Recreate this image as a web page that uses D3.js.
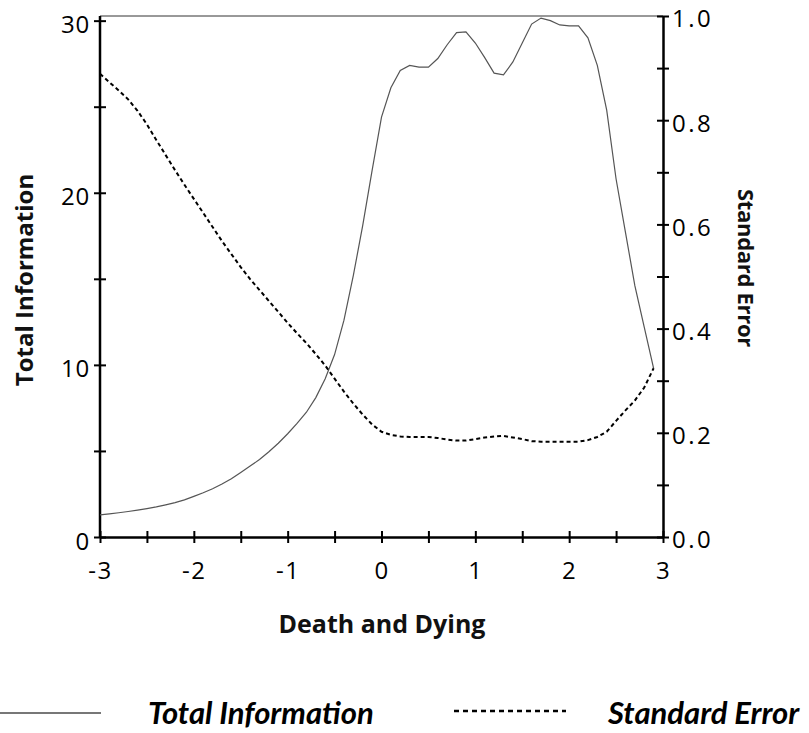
<!DOCTYPE html>
<html>
<head>
<meta charset="utf-8">
<script src="https://cdn.jsdelivr.net/npm/d3@7"></script>
<style>
  html, body { margin: 0; padding: 0; background: #fff; }
  svg { display: block; }
</style>
</head>
<body>
<svg id="chart" width="809" height="733"></svg>
<script>
// ---- data ----
const theta = [-3.0,-2.9,-2.8,-2.7,-2.6,-2.5,-2.4,-2.3,-2.2,-2.1,-2.0,-1.9,-1.8,-1.7,-1.6,-1.5,-1.4,-1.3,-1.2,-1.1,-1.0,-0.9,-0.8,-0.7,-0.6,-0.5,-0.4,-0.3,-0.2,-0.1,0.0,0.1,0.2,0.3,0.4,0.5,0.6,0.7,0.8,0.9,1.0,1.1,1.2,1.3,1.4,1.5,1.6,1.7,1.8,1.9,2.0,2.1,2.2,2.3,2.4,2.5,2.6,2.7,2.8,2.9];
const totalInformation = [1.28,1.34,1.41,1.48,1.56,1.65,1.75,1.87,2.00,2.16,2.36,2.57,2.80,3.08,3.38,3.75,4.12,4.50,4.95,5.45,6.00,6.60,7.25,8.10,9.20,10.6,12.6,15.2,18.1,21.3,24.4,26.1,27.1,27.4,27.3,27.3,27.8,28.6,29.3,29.35,28.7,27.85,26.95,26.85,27.6,28.7,29.8,30.15,30.0,29.75,29.7,29.7,29.0,27.4,24.8,20.8,17.7,14.6,12.2,9.8];
const standardError = [0.889,0.873,0.857,0.840,0.818,0.792,0.762,0.733,0.704,0.676,0.649,0.622,0.595,0.568,0.543,0.518,0.495,0.474,0.453,0.432,0.411,0.391,0.372,0.351,0.329,0.304,0.279,0.256,0.235,0.216,0.202,0.196,0.193,0.192,0.192,0.192,0.190,0.187,0.185,0.185,0.188,0.191,0.193,0.194,0.191,0.188,0.184,0.183,0.183,0.183,0.183,0.183,0.186,0.192,0.202,0.223,0.243,0.262,0.287,0.324];
const xTicks = [-3,-2.5,-2,-1.5,-1,-0.5,0,0.5,1,1.5,2,2.5,3];
const leftTicks = [0,5,10,15,20,25,30];
const rightTicks = [0,0.1,0.2,0.3,0.4,0.5,0.6,0.7,0.8,0.9,1.0];
const xTitle = "Death and Dying";
const leftTitle = "Total Information";
const rightTitle = "Standard Error";
const legendLabels = ["Total Information", "Standard Error"];

// ---- layout ----
const L = 100, R = 663, T = 16, B = 537;
const svg = d3.select("#chart");
const x = d3.scaleLinear().domain([-3, 3]).range([L, R]);
const yL = d3.scaleLinear().domain([0, 30.27]).range([B, T]);
const yR = d3.scaleLinear().domain([0, 1]).range([B, T]);

const tickFont = "'Open Sans', 'DejaVu Sans', sans-serif";
const titleFont = "'Open Sans', sans-serif";

// top border
svg.append("line").attr("x1", L).attr("x2", R).attr("y1", T).attr("y2", T)
  .attr("stroke", "#333").attr("stroke-width", 1);

function styleAxis(g, orient) {
  g.select(".domain").attr("stroke", "#000").attr("stroke-width", 2.5);
  g.selectAll(".tick line").attr("stroke", "#000").attr("stroke-width", 2);
  if (orient === "v") g.selectAll(".tick line").attr("x1", -6).attr("x2", 6);
  else g.selectAll(".tick line").attr("y1", -6).attr("y2", 6);
  g.selectAll(".tick text").attr("font-family", tickFont).attr("font-size", 24).attr("fill", "#000");
}

// bottom axis
const gx = svg.append("g").attr("transform", `translate(0,${B})`)
  .call(d3.axisBottom(x).tickValues(xTicks).tickSizeOuter(0)
    .tickFormat(d => Number.isInteger(d) ? String(d).replace("\u2212", "-") : ""));
styleAxis(gx, "h");
gx.selectAll(".tick text").attr("y", 25).attr("dy", "0.71em").attr("letter-spacing", 1.5);

// left axis
const gl = svg.append("g").attr("transform", `translate(${L},0)`)
  .call(d3.axisLeft(yL).tickValues(leftTicks).tickSizeOuter(0)
    .tickFormat(d => d % 10 === 0 ? d : ""));
styleAxis(gl, "v");
gl.select(".domain").attr("d", `M0,${B}V${T}`);
gl.selectAll(".tick text").attr("x", -10).attr("dy", "0.5em").attr("letter-spacing", 0.8);

// right axis
const gr = svg.append("g").attr("transform", `translate(${R},0)`)
  .call(d3.axisRight(yR).tickValues(rightTicks).tickSizeOuter(0)
    .tickFormat(d => Math.round(d * 10) % 2 === 0 ? d3.format(".1f")(d) : ""));
styleAxis(gr, "v");
gr.selectAll(".tick text").attr("x", 9).attr("dy", "0.45em").attr("letter-spacing", 2.5);

// curves
const data = theta.map((t, i) => ({ t, info: totalInformation[i], se: standardError[i] }));
svg.append("path").datum(data)
  .attr("fill", "none").attr("stroke", "#555").attr("stroke-width", 1.2)
  .attr("d", d3.line().x(d => x(d.t)).y(d => yL(d.info)));
svg.append("path").datum(data)
  .attr("fill", "none").attr("stroke", "#000").attr("stroke-width", 2)
  .attr("stroke-dasharray", "4,3")
  .attr("d", d3.line().x(d => x(d.t)).y(d => yR(d.se)));

// titles
svg.append("text").attr("x", 382).attr("y", 624).attr("dy", "0.35em")
  .attr("text-anchor", "middle").attr("font-family", titleFont).attr("font-weight", 700)
  .attr("font-size", 25).attr("fill", "#111").text(xTitle);
svg.append("text").attr("transform", "translate(25,280) rotate(-90)").attr("dy", "0.35em")
  .attr("text-anchor", "middle").attr("font-family", titleFont).attr("font-weight", 700)
  .attr("font-size", 24).attr("fill", "#111").text(leftTitle);
svg.append("text").attr("transform", "translate(746,268) rotate(90)").attr("dy", "0.35em")
  .attr("text-anchor", "middle").attr("font-family", titleFont).attr("font-weight", 700)
  .attr("font-size", 22).attr("letter-spacing", -0.3).attr("fill", "#111").text(rightTitle);

// legend
const legY = 713;
svg.append("line").attr("x1", 0).attr("x2", 101).attr("y1", legY).attr("y2", legY)
  .attr("stroke", "#777").attr("stroke-width", 2);
svg.append("text").attr("x", 148).attr("y", legY).attr("dy", "0.35em")
  .attr("font-family", "Lato, sans-serif").attr("font-weight", 700).attr("font-style", "italic")
  .attr("font-size", 31).attr("fill", "#000").text(legendLabels[0]);
svg.append("line").attr("x1", 454).attr("x2", 566).attr("y1", legY - 2).attr("y2", legY - 2)
  .attr("stroke", "#000").attr("stroke-width", 2.5).attr("stroke-dasharray", "5,4");
svg.append("text").attr("x", 608).attr("y", legY).attr("dy", "0.35em")
  .attr("font-family", "Lato, sans-serif").attr("font-weight", 700).attr("font-style", "italic")
  .attr("font-size", 31).attr("fill", "#000").text(legendLabels[1]);
</script>
</body>
</html>
